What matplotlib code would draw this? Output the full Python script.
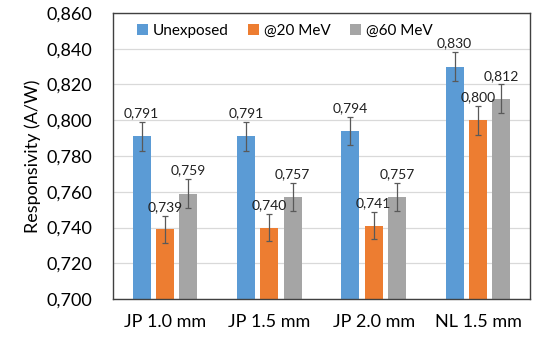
import matplotlib
matplotlib.use("Agg")
import matplotlib.pyplot as plt
import numpy as np

plt.rcParams['font.family'] = ['Lato', 'DejaVu Sans']

groups = ["JP 1.0 mm", "JP 1.5 mm", "JP 2.0 mm", "NL 1.5 mm"]
series = ["Unexposed", "@20 MeV", "@60 MeV"]
unexposed = [0.791, 0.791, 0.794, 0.830]
mev20 = [0.739, 0.740, 0.741, 0.800]
mev60 = [0.759, 0.757, 0.757, 0.812]
err_unexposed = [0.008, 0.008, 0.008, 0.008]
err_mev20 = [0.0075, 0.0075, 0.0075, 0.008]
err_mev60 = [0.008, 0.008, 0.008, 0.008]

colors = ["#5B9BD5", "#ED7D31", "#A5A5A5"]

fig = plt.figure(figsize=(5.35, 3.41), dpi=100)
ax = fig.add_axes([0.211, 0.123, 0.780, 0.839])

x = np.arange(len(groups))
width = 0.173
offsets = [-0.224, 0.0, 0.224]
allvals = [unexposed, mev20, mev60]
allerr = [err_unexposed, err_mev20, err_mev60]

for vals, errs, off, col, name in zip(allvals, allerr, offsets, colors, series):
    ax.bar(x + off, vals, width, color=col, label=name, zorder=2)
    ax.errorbar(x + off, vals, yerr=errs, fmt='none', ecolor='#595959',
                elinewidth=0.9, capsize=2.2, capthick=0.9, zorder=3)
    for xi, v, e in zip(x + off, vals, errs):
        ax.text(xi, v + e + 0.0015, ("%.3f" % v).replace('.', ','),
                ha='center', va='bottom', fontsize=10, color='#202020', zorder=4)

ax.set_ylim(0.700, 0.860)
ax.set_xlim(-0.5, 3.5)
yt = np.arange(0.700, 0.8601, 0.020)
ax.set_yticks(yt)
ax.set_yticklabels([("%.3f" % t).replace('.', ',') for t in yt], fontsize=13)
ax.set_xticks(x)
ax.set_xticklabels(groups, fontsize=13)
ax.tick_params(axis='y', length=0, pad=15)
ax.tick_params(axis='x', length=0, pad=11)
ax.yaxis.grid(True, color='#D9D9D9', linewidth=0.9, zorder=0)
ax.set_axisbelow(True)
for s in ax.spines.values():
    s.set_color('#404040')
    s.set_linewidth(1.0)

ax.set_ylabel("Responsivity (A/W)", fontsize=13, labelpad=4)

ax.legend(loc='upper center', ncol=3, frameon=False, fontsize=11,
          handlelength=0.7, handleheight=0.7, handletextpad=0.3,
          columnspacing=1.3, bbox_to_anchor=(0.412, 1.01))

fig.savefig("out.png", dpi=100)
